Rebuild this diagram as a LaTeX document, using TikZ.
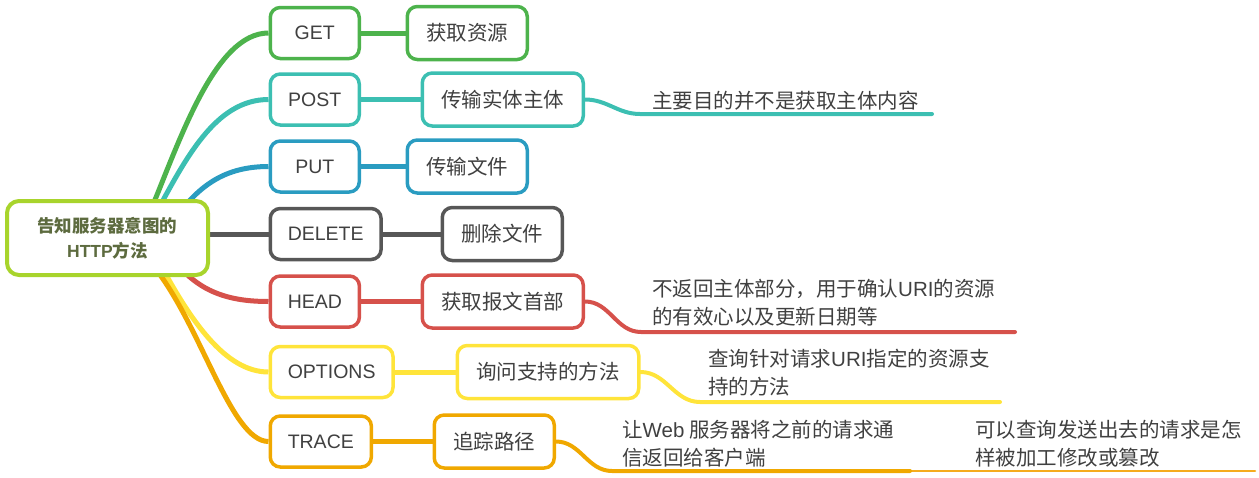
\documentclass[tikz,border=0pt]{standalone}
\usepackage{fontspec}
\setmainfont{Noto Sans CJK SC}
\newfontfamily\lat{Liberation Sans}
\usetikzlibrary{backgrounds}
\definecolor{croot}{HTML}{A8D42C}
\definecolor{crtxt}{HTML}{5D6B3F}
\definecolor{txt}{HTML}{404040}
\definecolor{cgreen}{HTML}{4DB34C}
\definecolor{cteal}{HTML}{3CBFB2}
\definecolor{cblue}{HTML}{2A9CC1}
\definecolor{cgray}{HTML}{575757}
\definecolor{cred}{HTML}{D6514B}
\definecolor{cyellow}{HTML}{FFE43A}
\definecolor{corange}{HTML}{F0A800}
\definecolor{corange2}{HTML}{F5AC1E}
\begin{document}
\begin{tikzpicture}[x=1pt,y=-1pt,
  box/.style={draw, line width=3.5pt, rounded corners=10pt, fill=white, text=txt, anchor=west},
  lone/.style={box, minimum width=89pt, minimum height=51pt, inner xsep=17.5pt, inner ysep=0pt, font=\lat\fontsize{19.5}{23}\selectfont},
  ltwo/.style={box, minimum height=53pt, inner xsep=19pt, inner ysep=0pt, font=\fontsize{20.5}{24}\selectfont},
  lthree/.style={anchor=west, inner sep=0pt, align=left, text=txt, font=\fontsize{20.5}{28}\selectfont},
  conn/.style={line width=5pt},
  uline/.style={line width=4pt, line cap=round},
]
\useasboundingbox (0,0) rectangle (1259,477);

% root
\node[draw=croot, line width=4pt, rounded corners=12pt, fill=white, text=crtxt,
      minimum width=201pt, minimum height=74pt, align=center, inner sep=0pt,
      font=\bfseries\fontsize{17.5}{25}\selectfont] (root) at (107.5,238)
      {告知服务器意图的\\{\lat HTTP}方法};

% level 1
\node[lone, draw=cgreen]  (get)     at (268.5,33)  {GET};
\node[lone, draw=cteal]   (post)    at (268.5,99.5)  {POST};
\node[lone, draw=cblue]   (put)     at (268.5,166.5) {PUT};
\node[lone, draw=cgray]   (delete)  at (268.5,234) {DELETE};
\node[lone, draw=cred]    (head)    at (268.5,301.5) {HEAD};
\node[lone, draw=cyellow] (options) at (268.5,372) {OPTIONS};
\node[lone, draw=corange] (trace)   at (268.5,441.5) {TRACE};

% level 2
\node[ltwo, draw=cgreen]  (get2)   at (405.5,33)  {获取资源};
\node[ltwo, draw=cteal]   (post2)  at (420.5,99.5)  {传输实体主体};
\node[ltwo, draw=cblue]   (put2)   at (405.5,166.5) {传输文件};
\node[ltwo, draw=cgray]   (del2)   at (440.5,234)   {删除文件};
\node[ltwo, draw=cred]    (head2)  at (420.5,301.5) {获取报文首部};
\node[ltwo, draw=cyellow] (opt2)   at (455.5,372) {询问支持的方法};
\node[ltwo, draw=corange] (trace2) at (432.5,441.5) {追踪路径};

% level 3 texts
\node[lthree] (post3)  at (652,101)   {主要目的并不是获取主体内容};
\node[lthree] (head3)  at (652,303)   {不返回主体部分，用于确认{\lat URI}的资源\\的有效心以及更新日期等};
\node[lthree] (opt3)   at (708,372.5) {查询针对请求{\lat URI}指定的资源支\\持的方法};
\node[lthree] (trace3) at (622,443.5) {让{\lat Web} 服务器将之前的请求通\\信返回给客户端};
\node[lthree] (trace4) at (975,443.5) {可以查询发送出去的请求是怎\\样被加工修改或篡改};

% coordinates
\coordinate (sg) at (150,212);
\coordinate (st) at (155,215);
\coordinate (sb) at (170,225);
\coordinate (sr) at (170,255);
\coordinate (sy) at (158,260);
\coordinate (so) at (150,262);
\coordinate (p3a) at (640,114);  \coordinate (p3b) at (932,114);
\coordinate (h3a) at (641,332);  \coordinate (h3b) at (1015,332);
\coordinate (o3a) at (700,402);  \coordinate (o3b) at (1000,402);
\coordinate (t3a) at (612,471);  \coordinate (t3b) at (910,471);
\coordinate (t4b) at (1255,471);

\begin{scope}[on background layer]
  \draw[conn, cgreen]  (sg) .. controls (180,140) and (215,33) .. (get.west);
  \draw[conn, cteal]   (st) .. controls (185,160) and (215,99.5) .. (post.west);
  \draw[conn, cblue]   (sb) .. controls (195,190) and (220,166.5) .. (put.west);
  \draw[conn, cgray]   (delete.west -| root.east) -- (delete.west);
  \draw[conn, cred]    (sr) .. controls (195,290) and (225,301.5) .. (head.west);
  \draw[conn, cyellow] (sy) .. controls (190,320) and (225,372) .. (options.west);
  \draw[conn, corange] (so) .. controls (200,320) and (230,441.5) .. (trace.west);

  \draw[conn, cgreen]  (get) -- (get2);
  \draw[conn, cteal]   (post) -- (post2);
  \draw[conn, cblue]   (put) -- (put2);
  \draw[conn, cgray]   (delete) -- (del2);
  \draw[conn, cred]    (head) -- (head2);
  \draw[conn, cyellow] (options) -- (opt2);
  \draw[conn, corange] (trace) -- (trace2);

  \draw[uline, cteal]   (post2.east) to[out=0,in=180] (p3a) -- (p3b);
  \draw[uline, cred]    (head2.east) to[out=0,in=180] (h3a) -- (h3b);
  \draw[uline, cyellow] (opt2.east) to[out=0,in=180] (o3a) -- (o3b);
  \draw[line width=2.5pt, line cap=round, corange2] (t3b) -- (t4b);
  \draw[uline, corange] (trace2.east) to[out=0,in=180] (t3a) -- (t3b);
\end{scope}
\end{tikzpicture}
\end{document}
